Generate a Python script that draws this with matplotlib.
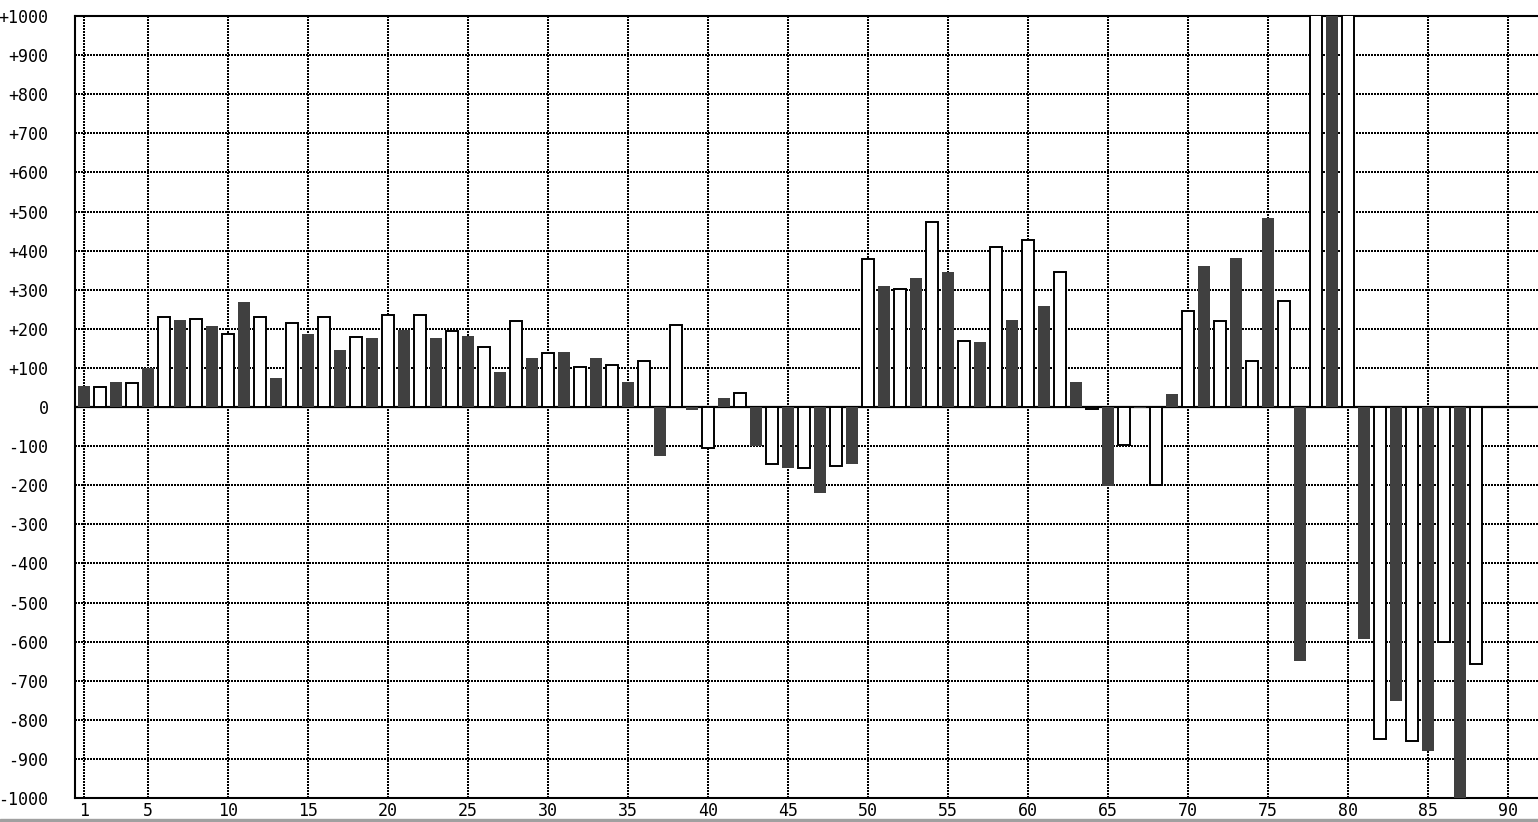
import numpy as np
import matplotlib
matplotlib.use('Agg')
import matplotlib.pyplot as plt
from matplotlib.patches import Rectangle

# bar values, index 1..88 (odd = dark, even = white)
values = [53, 51, 63, 62, 99, 231, 222, 226, 207, 186,
          268, 231, 74, 215, 186, 231, 145, 180, 176, 236,
          197, 236, 176, 195, 181, 154, 89, 221, 125, 139,
          140, 103, 125, 108, 63, 118, -126, 210, -8, -104,
          22, 36, -101, -145, -157, -156, -219, -150, -147, 379,
          309, 303, 330, 472, 345, 169, 166, 410, 222, 426,
          258, 344, 63, -5, -202, -97, -2, -200, 33, 246,
          361, 221, 381, 118, 483, 270, -649, 1100, 1100, 1100,
          -593, -848, -751, -853, -880, -601, -1100, -658]
x_ticks = [1, 5, 10, 15, 20, 25, 30, 35, 40, 45, 50, 55, 60, 65, 70, 75, 80, 85, 90]
y_ticks = list(range(-1000, 1001, 100))
y_labels = [('+%d' % v if v > 0 else str(v)) for v in y_ticks]

W, H = 1538, 822
fig = plt.figure(figsize=(W / 100, H / 100), dpi=100)
ax = fig.add_axes([75 / W, 24 / H, 1465 / W, 782 / H])

x = np.arange(1, len(values) + 1)
v = np.array(values)
dark = x % 2 == 1
ax.bar(x[dark], v[dark], width=0.75, color='#404040', linewidth=0, zorder=3)
ax.bar(x[~dark], v[~dark], width=0.75, color='white', edgecolor='black', linewidth=1.4, zorder=3)

ax.axhline(0, color='black', linewidth=1.6, zorder=2)

ax.set_xlim(0.4375, 92)
ax.set_ylim(-1000, 1000)
ax.set_xticks(x_ticks)
ax.set_yticks(y_ticks)
ax.set_yticklabels(y_labels)
ax.grid(True, color='black', linewidth=1.08, linestyle=(0, (1, 1)), antialiased=False, zorder=1)
ax.set_axisbelow(True)
ax.tick_params(length=0, labelsize=12, pad=3)
ax.tick_params(axis='y', pad=19)
for lab in ax.get_xticklabels() + ax.get_yticklabels():
    lab.set_family('DejaVu Sans Mono')
for s in ax.spines.values():
    s.set_linewidth(1.5)

fig.add_artist(Rectangle((0, 0), 1, 3 / H, transform=fig.transFigure, color='#a0a0a0'))

plt.savefig('out.png', dpi=100)
